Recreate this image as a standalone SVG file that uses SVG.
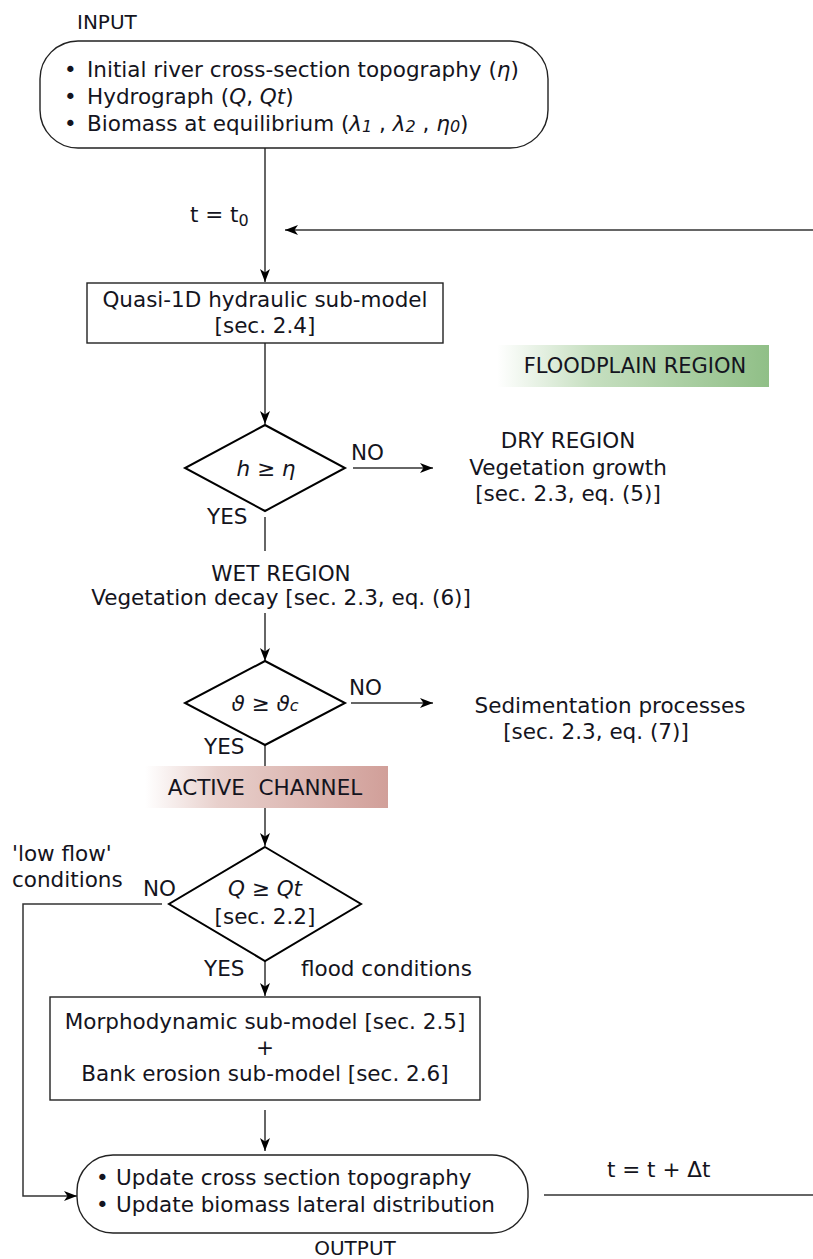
<svg xmlns="http://www.w3.org/2000/svg" width="813" height="1259" viewBox="0 0 813 1259">
<style>
  text { font-family: "DejaVu Sans", "Liberation Sans", sans-serif; font-size: 21.5px; fill: #141420; }
  .c { text-anchor: middle; }
  .i { font-style: italic; }
  .sub { font-style: italic; font-size: 16px; }
  .box { fill: #fff; stroke: #222; stroke-width: 1.4; }
  .dia { fill: #fff; stroke: #000; stroke-width: 2; }
  .ln { fill: none; stroke: #333; stroke-width: 1.5; }
  .arr { fill: none; stroke: #333; stroke-width: 1.5; marker-end: url(#ah); }
</style>
<defs>
  <marker id="ah" viewBox="0 0 13 10" refX="13" refY="5" markerWidth="13" markerHeight="10" markerUnits="userSpaceOnUse" orient="auto">
    <path d="M0,0 L13,5 L0,10 L3.5,5 z" fill="#000"/>
  </marker>
  <linearGradient id="gGreen" x1="0" y1="0" x2="1" y2="0">
    <stop offset="0" stop-color="#ffffff"/>
    <stop offset="0.35" stop-color="#c6dfc0"/>
    <stop offset="1" stop-color="#90bf87"/>
  </linearGradient>
  <linearGradient id="gRed" x1="0" y1="0" x2="1" y2="0">
    <stop offset="0" stop-color="#ffffff"/>
    <stop offset="0.3" stop-color="#e8d0cc"/>
    <stop offset="1" stop-color="#d19f99"/>
  </linearGradient>
</defs>

<g id="connectors">
  <line class="arr" x1="265" y1="148" x2="265" y2="282"/>
  <line class="arr" x1="813" y1="230" x2="285" y2="230"/>
  <line class="arr" x1="265" y1="343" x2="265" y2="424"/>
  <line class="arr" x1="353" y1="468" x2="433" y2="468"/>
  <line class="ln" x1="265" y1="517" x2="265" y2="551"/>
  <line class="arr" x1="265" y1="613" x2="265" y2="661"/>
  <line class="arr" x1="351" y1="703" x2="433" y2="703"/>
  <line class="ln" x1="265" y1="745" x2="265" y2="766"/>
  <line class="arr" x1="265" y1="808" x2="265" y2="846"/>
  <polyline class="arr" points="162,904 23,904 23,1196 77,1196"/>
  <line class="arr" x1="265" y1="961" x2="265" y2="996"/>
  <line class="arr" x1="265" y1="1110" x2="265" y2="1151"/>
  <line class="ln" x1="544" y1="1195" x2="813" y2="1195"/>
</g>

<g id="input-label"><text x="77" y="29" style="font-size:20px">INPUT</text></g>
<g id="input">
  <rect class="box" x="40" y="41" width="508" height="107" rx="38" ry="38"/>
  <text x="64" y="77">•</text><text x="87" y="77">Initial river cross-section topography (<tspan class="i">η</tspan>)</text>
  <text x="64" y="104">•</text><text x="87" y="104">Hydrograph (<tspan class="i">Q</tspan>, <tspan class="i">Qt</tspan>)</text>
  <text x="64" y="131">•</text><text x="87" y="131">Biomass at equilibrium (<tspan class="i">λ</tspan><tspan class="sub" dy="1">1</tspan><tspan dy="-1"> , </tspan><tspan class="i">λ</tspan><tspan class="sub" dy="1">2</tspan><tspan dy="-1"> , </tspan><tspan class="i">η</tspan><tspan class="sub" dy="1">0</tspan><tspan dy="-1">)</tspan></text>
</g>
<g id="t0-label"><text x="190" y="222">t = t<tspan style="font-size:16px" dy="4">0</tspan></text></g>

<g id="hydraulic">
  <rect class="box" x="87" y="283" width="356" height="60"/>
  <text class="c" x="265" y="307">Quasi-1D hydraulic sub-model</text>
  <text class="c" x="265" y="333">[sec. 2.4]</text>
</g>

<g id="floodplain">
  <rect x="497" y="345" width="272" height="42" fill="url(#gGreen)"/>
  <text class="c" x="635" y="373" style="font-size:21px">FLOODPLAIN REGION</text>
</g>

<g id="d1">
  <polygon class="dia" points="265,425 345,468 265,511 185,468"/>
  <text class="c" x="266" y="476"><tspan class="i">h</tspan> ≥ <tspan class="i">η</tspan></text>
  <text x="351" y="460">NO</text>
  <text x="207" y="524">YES</text>
</g>

<g id="dry">
  <text class="c" x="568" y="448">DRY REGION</text>
  <text class="c" x="568" y="475">Vegetation growth</text>
  <text class="c" x="568" y="501">[sec. 2.3, eq. (5)]</text>
</g>

<g id="wet">
  <text class="c" x="281" y="581">WET REGION</text>
  <text class="c" x="281" y="605">Vegetation decay [sec. 2.3, eq. (6)]</text>
</g>

<g id="d2">
  <polygon class="dia" points="265,661 345,703 265,745 185,703"/>
  <text class="c" x="265" y="711"><tspan class="i">ϑ</tspan> ≥ <tspan class="i">ϑ</tspan><tspan class="sub">c</tspan></text>
  <text x="349" y="695">NO</text>
  <text x="204" y="754">YES</text>
</g>

<g id="sedimentation">
  <text class="c" x="610" y="713">Sedimentation processes</text>
  <text class="c" x="596" y="739">[sec. 2.3, eq. (7)]</text>
</g>

<g id="active">
  <rect x="145" y="766" width="243" height="42" fill="url(#gRed)"/>
  <text class="c" x="265" y="795">ACTIVE&#160; CHANNEL</text>
</g>

<g id="d3">
  <polygon class="dia" points="265,847 361,904 265,961 169,904"/>
  <text class="c" x="265" y="896"><tspan class="i">Q</tspan> ≥ <tspan class="i">Qt</tspan></text>
  <text class="c" x="265" y="924">[sec. 2.2]</text>
  <text x="143" y="896">NO</text>
  <text x="204" y="976">YES</text>
  <text x="301" y="976">flood conditions</text>
  <text x="12" y="861">'low flow'</text>
  <text x="12" y="887">conditions</text>
</g>

<g id="morpho">
  <rect class="box" x="50" y="997" width="430" height="103"/>
  <text class="c" x="265" y="1029">Morphodynamic sub-model [sec. 2.5]</text>
  <text class="c" x="265" y="1055">+</text>
  <text class="c" x="265" y="1081">Bank erosion sub-model [sec. 2.6]</text>
</g>

<g id="output">
  <rect class="box" x="77" y="1155" width="451" height="78" rx="36" ry="36"/>
  <text x="96" y="1185">•</text><text x="116" y="1185">Update cross section topography</text>
  <text x="96" y="1212">•</text><text x="116" y="1212">Update biomass lateral distribution</text>
</g>
<g id="output-label"><text class="c" x="355" y="1255" style="font-size:20px">OUTPUT</text></g>
<g id="dt-label"><text x="607" y="1177">t = t + Δt</text></g>
</svg>
